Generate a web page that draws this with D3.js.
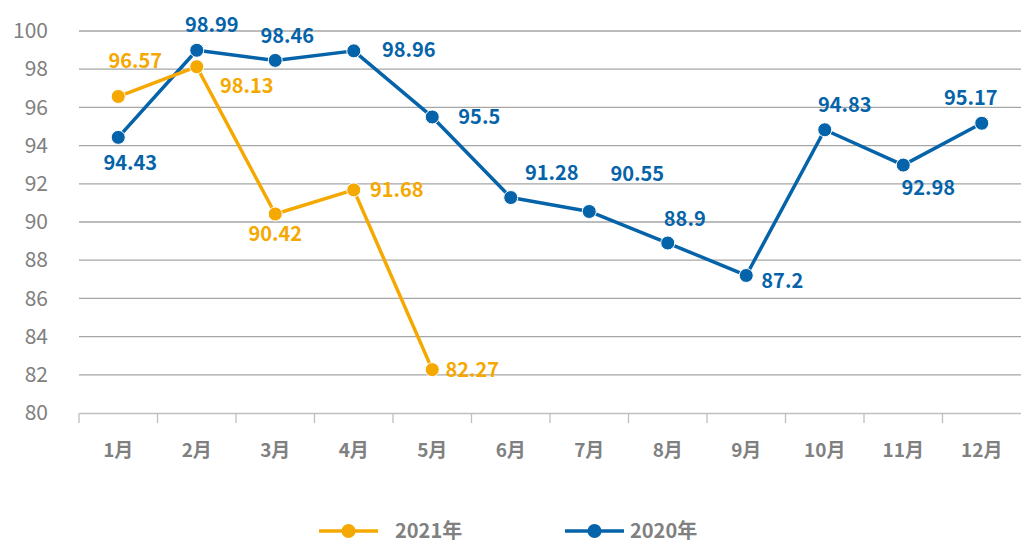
<!DOCTYPE html>
<html>
<head>
<meta charset="utf-8">
<script src="https://cdn.jsdelivr.net/npm/d3@7"></script>
<style>
  body { margin: 0; background: #fff; }
  svg { display: block; font-family: "Noto Sans CJK SC", "Noto Sans", sans-serif; }
</style>
</head>
<body>
<div id="chart-area"></div>
<script>
// DATA
var months = ["1月", "2月", "3月", "4月", "5月", "6月", "7月", "8月", "9月", "10月", "11月", "12月"];
var yTicks = [80, 82, 84, 86, 88, 90, 92, 94, 96, 98, 100];
var values2021 = [96.57, 98.13, 90.42, 91.68, 82.27];
var values2020 = [94.43, 98.99, 98.46, 98.96, 95.5, 91.28, 90.55, 88.9, 87.2, 94.83, 92.98, 95.17];
var seriesNames = ["2021年", "2020年"];

// label offsets from each point (layout only)
var offs2021 = [[17, -36], [50, 19], [0, 20], [43, 0], [40, 0]];
var offs2020 = [[12, 26], [15, -25], [12, -24], [55, -1], [47, 0], [41, -25],
                [48, -37], [17, -24], [36, 6], [20, -25], [25, 23], [-11, -25]];

var colors = { "2021年": "#f5a800", "2020年": "#0563a9" };

var W = 1021, H = 544;
var margin = { left: 79, right: 0, top: 31, bottom: 131 };
var width = W - margin.left - margin.right,
    height = H - margin.top - margin.bottom;

var svg = d3.select("#chart-area").append("svg")
    .attr("width", W)
    .attr("height", H);

var g = svg.append("g")
    .attr("transform", "translate(" + margin.left + "," + margin.top + ")");

// Scales
var x = d3.scaleBand().domain(months).range([0, width]);
var y = d3.scaleLinear().domain([80, 100]).range([height, 0]);

// Gridlines
g.selectAll(".grid")
    .data(yTicks.filter(d => d > 80))
    .enter().append("line")
    .attr("class", "grid")
    .attr("x1", 0).attr("x2", width)
    .attr("y1", d => y(d)).attr("y2", d => y(d))
    .attr("stroke", "#a6a6a6")
    .attr("stroke-width", 1.3);

// Y axis labels
var yAxis = g.append("g").call(d3.axisLeft(y).tickValues(yTicks).tickSize(0).tickPadding(31));
yAxis.select(".domain").remove();
yAxis.selectAll("text")
    .attr("fill", "#808080")
    .style("font-size", "21px")
    .style("font-family", "'Noto Sans CJK SC', sans-serif");

// X axis
var xAxis = g.append("g")
    .attr("transform", "translate(0," + height + ")")
    .call(d3.axisBottom(x).tickSize(0).tickPadding(31));
xAxis.select(".domain").attr("stroke", "#bfbfbf").attr("stroke-width", 1.3);
xAxis.selectAll("text")
    .attr("fill", "#808080")
    .style("font-size", "19px")
    .style("font-weight", "bold")
    .style("font-family", "'Noto Sans CJK SC', sans-serif");

// category boundary ticks
g.selectAll(".xtick")
    .data(months)
    .enter().append("line")
    .attr("x1", d => x(d)).attr("x2", d => x(d))
    .attr("y1", height).attr("y2", height + 10)
    .attr("stroke", "#bfbfbf")
    .attr("stroke-width", 1.3);

var cx = (d, i) => x(months[i]) + x.bandwidth() / 2;

var line = d3.line()
    .x((d, i) => cx(d, i))
    .y(d => y(d));

function drawSeries(vals, name, offs) {
    var color = colors[name];
    g.append("path")
        .datum(vals)
        .attr("fill", "none")
        .attr("stroke", color)
        .attr("stroke-width", 3.5)
        .attr("stroke-linejoin", "round")
        .attr("d", line);

    g.selectAll(".pt-" + name)
        .data(vals)
        .enter().append("circle")
        .attr("cx", cx)
        .attr("cy", d => y(d))
        .attr("r", 7)
        .attr("fill", color)
        .attr("stroke", "#fff")
        .attr("stroke-width", 1);

    g.selectAll(".lb-" + name)
        .data(vals)
        .enter().append("text")
        .attr("x", (d, i) => cx(d, i) + offs[i][0])
        .attr("y", (d, i) => y(d) + offs[i][1])
        .attr("dy", "0.35em")
        .attr("text-anchor", "middle")
        .attr("fill", color)
        .style("font-size", "20px")
        .style("font-weight", "bold")
        .text(d => d);
}

drawSeries(values2020, "2020年", offs2020);
drawSeries(values2021, "2021年", offs2021);

// Legend
var legend = svg.append("g").attr("transform", "translate(0,531)");
var legendX = [319, 565];
seriesNames.forEach(function(name, i) {
    var lg = legend.append("g").attr("transform", "translate(" + legendX[i] + ",0)");
    lg.append("line")
        .attr("x1", 0).attr("x2", 59)
        .attr("stroke", colors[name])
        .attr("stroke-width", 3.5);
    lg.append("circle")
        .attr("cx", 29.5).attr("r", 7)
        .attr("fill", colors[name]);
    lg.append("text")
        .attr("x", i === 0 ? 76 : 65)
        .attr("dy", "0.35em")
        .attr("fill", "#808080")
        .style("font-size", "20px")
        .style("font-weight", "bold")
        .text(name);
});
</script>
</body>
</html>
